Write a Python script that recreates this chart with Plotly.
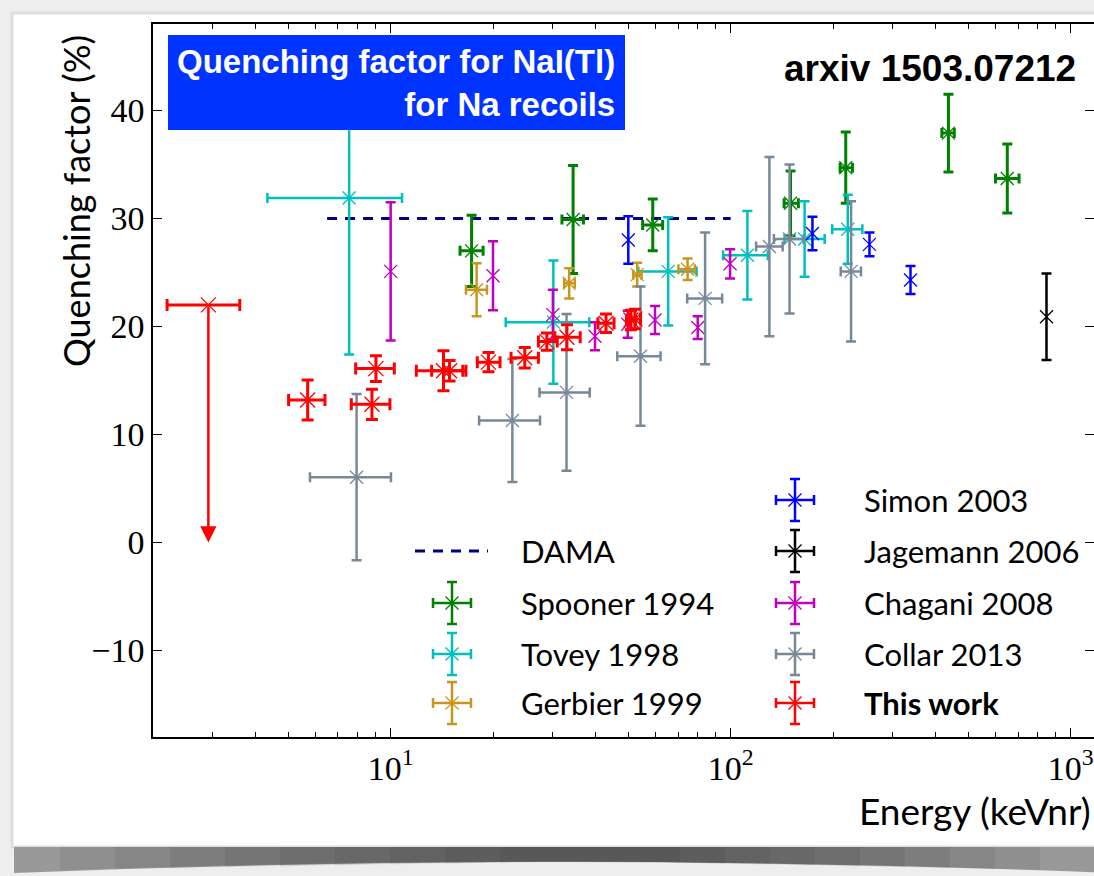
import numpy as np
import plotly.graph_objects as go

# ---------------- data: quenching factor of Na recoils in NaI(Tl) ----------------
# energies in keVnr, asymmetric horizontal errors, QF in %, symmetric vertical errors

dama_e = [6.5, 100.0]
dama_qf = [30.0, 30.0]

spooner_e = [17.3, 34.4, 59.0, 150.0, 218.0, 437.0, 651.0]
spooner_e_lo = [1.3, 2.5, 3.9, 6.4, 8.2, 19.0, 50.0]
spooner_e_hi = [1.4, 2.5, 4.1, 8.2, 10.1, 17.6, 54.0]
spooner_qf = [27.0, 29.9, 29.4, 31.4, 34.7, 37.9, 33.7]
spooner_dqf = [3.3, 5.0, 2.4, 3.0, 3.3, 3.6, 3.2]

tovey_e = [7.55, 30.1, 65.5, 112.0, 165.0, 221.0]
tovey_e_lo = [3.21, 8.3, 12.0, 17.0, 21.0, 22.0]
tovey_e_hi = [3.25, 8.3, 13.9, 16.6, 24.0, 23.0]
tovey_qf = [31.9, 20.4, 25.1, 26.6, 28.1, 29.0]
tovey_dqf = [14.5, 5.7, 5.0, 4.1, 3.5, 3.2]

gerbier_e = [17.9, 33.5, 53.1, 74.7]
gerbier_e_lo = [1.25, 1.1, 1.4, 4.5]
gerbier_e_hi = [1.3, 1.3, 1.6, 3.8]
gerbier_qf = [23.4, 24.0, 24.8, 25.3]
gerbier_dqf = [2.45, 1.4, 1.1, 1.0]

simon_e = [50.0, 174.0, 256.0, 338.0]
simon_qf = [28.0, 28.6, 27.6, 24.3]
simon_dqf = [2.2, 1.55, 1.1, 1.3]

jagemann_e = [849.0]
jagemann_qf = [20.9]
jagemann_dqf = [4.0]

chagani_e = [10.0, 20.0, 30.0, 39.9, 49.8, 59.9, 80.0, 99.6]
chagani_qf = [25.1, 24.7, 21.1, 19.1, 20.2, 20.6, 19.9, 25.8]
chagani_dqf = [6.4, 3.2, 2.3, 1.3, 1.25, 1.3, 1.05, 1.35]

collar_e = [7.94, 22.8, 32.9, 54.3, 84.1, 130.0, 149.0, 226.0]
collar_e_lo = [2.15, 4.6, 5.5, 7.9, 9.6, 11.2, 15.0, 15.3]
collar_e_hi = [2.08, 4.7, 5.6, 7.9, 10.3, 12.2, 15.0, 15.7]
collar_qf = [6.05, 11.3, 13.9, 17.25, 22.6, 27.4, 28.1, 25.1]
collar_dqf = [7.7, 5.7, 7.25, 6.45, 6.1, 8.3, 6.9, 6.5]

thiswork_e = [5.70, 8.81, 9.05, 14.3, 14.9, 19.4, 24.8, 28.8, 33.0, 43.0, 50.9, 52.3]
thiswork_e_lo = [0.69, 1.15, 1.16, 2.4, 1.7, 1.42, 2.2, 1.6, 2.6, 2.3, 1.5, 1.6]
thiswork_e_hi = [0.71, 1.14, 1.2, 2.0, 1.75, 1.57, 2.4, 2.1, 3.1, 2.4, 1.6, 2.0]
thiswork_qf = [13.2, 12.8, 16.1, 15.9, 15.9, 16.7, 17.1, 18.6, 19.0, 20.3, 20.6, 20.7]
thiswork_dqf = [1.85, 1.4, 1.2, 1.85, 0.95, 0.9, 0.95, 0.8, 1.15, 0.85, 0.9, 0.9]

# upper limit from this work (arrow drawn down to the floor value)
limit_e = [2.91]
limit_e_lo = [0.71]
limit_e_hi = [0.69]
limit_qf = [22.0]
limit_floor = [0.0]

y_ticks = [-10, 0, 10, 20, 30, 40]
x_ticks = [10, 100, 1000]
x_tick_text = ["10<sup>1</sup>", "10<sup>2</sup>", "10<sup>3</sup>"]

# ---------------- colours ----------------
C_DAMA = "#000080"
C_SPOONER = "#008000"
C_TOVEY = "#00BFBF"
C_GERBIER = "#C8961E"
C_SIMON = "#0000FF"
C_JAGEMANN = "#000000"
C_CHAGANI = "#BF00BF"
C_COLLAR = "#778899"
C_RED = "#FF0000"

W, H = 1094, 876
ML, MR, MT, MB = 153, 0, 24, 139
PW, PH = W - ML - MR, H - MT - MB

TICK_FONT = dict(family="Liberation Serif", size=34, color="black")
SANS = "Lato"


def px2paper(px, py):
    return (px - ML) / PW, (H - MB - py) / PH


fig = go.Figure()


def add_series(e, qf, dqf, color, e_lo=None, e_hi=None, thick=2.5, cap=5, msize=13):
    if e_lo is not None:
        ex = dict(type="data", symmetric=False, array=e_hi, arrayminus=e_lo,
                  color=color, thickness=thick, width=cap)
    else:
        ex = dict(visible=False)
    fig.add_trace(go.Scatter(
        x=e, y=qf, mode="markers",
        marker=dict(symbol="x-thin", size=msize, color=color,
                    line=dict(color=color, width=1.3)),
        error_y=dict(type="data", array=dqf, color=color, thickness=thick, width=cap),
        error_x=ex, showlegend=False, hoverinfo="x+y"))


# DAMA reference line
fig.add_trace(go.Scatter(x=dama_e, y=dama_qf, mode="lines",
                         line=dict(color=C_DAMA, width=3, dash="10px,8px"),
                         showlegend=False))

add_series(spooner_e, spooner_qf, spooner_dqf, C_SPOONER, spooner_e_lo, spooner_e_hi, thick=3)
add_series(tovey_e, tovey_qf, tovey_dqf, C_TOVEY, tovey_e_lo, tovey_e_hi)
add_series(gerbier_e, gerbier_qf, gerbier_dqf, C_GERBIER, gerbier_e_lo, gerbier_e_hi)
add_series(simon_e, simon_qf, simon_dqf, C_SIMON)
add_series(jagemann_e, jagemann_qf, jagemann_dqf, C_JAGEMANN)
add_series(chagani_e, chagani_qf, chagani_dqf, C_CHAGANI)
add_series(collar_e, collar_qf, collar_dqf, C_COLLAR, collar_e_lo, collar_e_hi)
add_series(thiswork_e, thiswork_qf, thiswork_dqf, C_RED, thiswork_e_lo, thiswork_e_hi,
           thick=3, cap=6, msize=15)

# upper limit: horizontal bar + marker, then arrow down to the floor value
fig.add_trace(go.Scatter(
    x=limit_e, y=limit_qf, mode="markers",
    marker=dict(symbol="x-thin", size=15, color=C_RED, line=dict(color=C_RED, width=1.3)),
    error_x=dict(type="data", symmetric=False, array=limit_e_hi, arrayminus=limit_e_lo,
                 color=C_RED, thickness=3, width=6),
    showlegend=False))
for e, q, f in zip(limit_e, limit_qf, limit_floor):
    fig.add_annotation(x=np.log10(e), y=f, ax=np.log10(e), ay=q,
                       xref="x", yref="y", axref="x", ayref="y",
                       text="", showarrow=True, arrowhead=2, arrowsize=1.3,
                       arrowwidth=2.5, arrowcolor=C_RED, standoff=0)

# ---------------- legend drawn in pixel space (overlay axes) ----------------
legend_entries = [
    ("DAMA", C_DAMA, 452, 551, False, "line"),
    ("Spooner 1994", C_SPOONER, 452, 603, False, "err"),
    ("Tovey 1998", C_TOVEY, 452, 654, False, "err"),
    ("Gerbier 1999", C_GERBIER, 452, 703, False, "err"),
    ("Simon 2003", C_SIMON, 795, 500, False, "err"),
    ("Jagemann 2006", C_JAGEMANN, 795, 551, False, "err"),
    ("Chagani 2008", C_CHAGANI, 795, 603, False, "err"),
    ("Collar 2013", C_COLLAR, 795, 654, False, "err"),
    ("This work", C_RED, 795, 703, True, "err"),
]
KEY_HALF_W, KEY_HALF_H, TEXT_GAP = 19, 21, 67
for label, color, kx, ky, bold, kind in legend_entries:
    if kind == "line":
        fig.add_trace(go.Scatter(x=[kx - 37, kx + 36], y=[ky, ky], mode="lines",
                                 xaxis="x2", yaxis="y2",
                                 line=dict(color=color, width=3, dash="10px,8px"),
                                 showlegend=False, hoverinfo="skip"))
    else:
        fig.add_trace(go.Scatter(
            x=[kx], y=[ky], mode="markers", xaxis="x2", yaxis="y2",
            marker=dict(symbol="x-thin", size=13, color=color, line=dict(color=color, width=1.3)),
            error_x=dict(type="constant", value=KEY_HALF_W, color=color, thickness=2.5, width=5),
            error_y=dict(type="constant", value=KEY_HALF_H, color=color, thickness=2.5, width=5),
            showlegend=False, hoverinfo="skip"))
    fig.add_annotation(x=kx + TEXT_GAP, y=ky, xref="x2", yref="y2",
                       text=f"<b>{label}</b>" if bold else label,
                       showarrow=False, xanchor="left", yanchor="middle",
                       font=dict(family=SANS, size=31, color="black"))

# ---------------- page / paper decoration ----------------
shapes = []
x0, y0 = px2paper(12, 13)
x1, y1 = px2paper(1110, 847)
shapes.append(dict(type="rect", xref="paper", yref="paper", x0=x0, y0=y1, x1=x1, y1=y0,
                   fillcolor="white", line=dict(color="#dedede", width=3), layer="below"))


def band_path(xa, xb, top, edge_bot, mid_bot):
    xm = (xa + xb) / 2
    ctrl = 2 * mid_bot - edge_bot
    pa = px2paper(xa, top)
    pb = px2paper(xb, top)
    pc = px2paper(xb, edge_bot)
    pq = px2paper(xm, ctrl)
    pd = px2paper(xa, edge_bot)
    return (f"M {pa[0]},{pa[1]} L {pb[0]},{pb[1]} L {pc[0]},{pc[1]} "
            f"Q {pq[0]},{pq[1]} {pd[0]},{pd[1]} Z")


# curled-page shadow under the sheet: a lighter base band darkened toward the centre
shapes.append(dict(type="path", xref="paper", yref="paper",
                   path=band_path(14, 1110, 847, 873, 862),
                   fillcolor="#999999", line=dict(width=0), layer="below"))
for i in range(9):
    shapes.append(dict(type="path", xref="paper", yref="paper",
                       path=band_path(60 + i * 55, 1040 - i * 45, 847, 870 - i * 0.9, 861.5),
                       fillcolor="#2a2a2a", opacity=0.09, line=dict(width=0), layer="below"))

# title box
bx0, by0 = px2paper(168, 35)
bx1, by1 = px2paper(625, 130)
shapes.append(dict(type="rect", xref="paper", yref="paper", x0=bx0, y0=by1, x1=bx1, y1=by0,
                   fillcolor="#0033FF", line=dict(width=0), layer="above"))

annotations = []
tx, ty = px2paper(617, 83)
annotations.append(dict(xref="paper", yref="paper", x=tx, y=ty, xanchor="right",
                        yanchor="middle", align="right", showarrow=False,
                        text="<b>Quenching factor for NaI(Tl)<br>for Na recoils</b>",
                        font=dict(family="Liberation Sans", size=33, color="white")))
ax_, ay_ = px2paper(1078, 68)
annotations.append(dict(xref="paper", yref="paper", x=ax_, y=ay_, xanchor="right",
                        yanchor="middle", showarrow=False, text="<b>arxiv 1503.07212</b>",
                        font=dict(family="Liberation Sans", size=37, color="black")))
yx, yy = px2paper(76, 201)
annotations.append(dict(xref="paper", yref="paper", x=yx, y=yy, xanchor="center",
                        yanchor="middle", showarrow=False, textangle=-90,
                        text="Quenching factor (%)",
                        font=dict(family=SANS, size=36, color="black")))
xx, xy = px2paper(1093, 810)
annotations.append(dict(xref="paper", yref="paper", x=xx, y=xy, xanchor="right",
                        yanchor="middle", showarrow=False, text="Energy (keVnr)",
                        font=dict(family=SANS, size=37, color="black")))

for a in annotations:
    fig.add_annotation(**a)

minor_vals = [m * d for d in (1, 10, 100, 1000) for m in range(2, 10)]

fig.update_layout(
    width=W, height=H,
    margin=dict(l=ML, r=MR, t=MT, b=MB, pad=0),
    paper_bgcolor="#eeeeee", plot_bgcolor="white",
    shapes=shapes,
    showlegend=False,
    font=dict(family=SANS, color="black"),
    xaxis=dict(type="log", range=[np.log10(2.0), 3.0686], showgrid=False, zeroline=False,
               showline=True, linecolor="black", linewidth=1.5, mirror="allticks",
               ticks="inside", ticklen=9, tickwidth=1.2, tickcolor="black",
               tickvals=x_ticks, ticktext=x_tick_text, tickfont=TICK_FONT,
               minor=dict(tickvals=minor_vals, ticks="inside", ticklen=5,
                          tickwidth=1, tickcolor="black"),
               automargin=False),
    yaxis=dict(range=[-18, 48], showgrid=False, zeroline=False,
               showline=True, linecolor="black", linewidth=1.5, mirror="allticks",
               ticks="inside", ticklen=9, tickwidth=1.2, tickcolor="black",
               tickvals=y_ticks, tickfont=TICK_FONT, automargin=False),
    xaxis2=dict(overlaying="x", range=[ML, W - MR], visible=False, fixedrange=True),
    yaxis2=dict(overlaying="y", range=[H - MB, MT], visible=False, fixedrange=True),
)

fig.write_html("out.html", config={"displayModeBar": False})
